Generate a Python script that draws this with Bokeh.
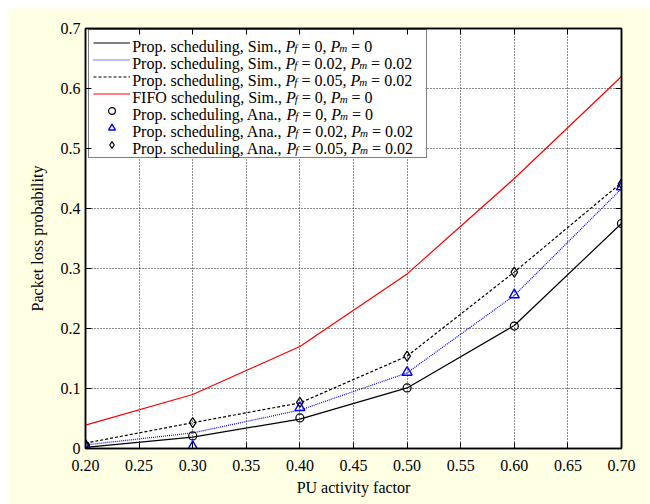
from bokeh.plotting import figure
from bokeh.models import (FixedTicker, LinearAxis, Legend, LegendItem, Label, Range1d, Grid,
                          BoxAnnotation)
from bokeh.core.properties import value
from bokeh.embed import file_html
from bokeh.resources import INLINE

# ---------------- data ----------------
pu_factor = [0.20, 0.30, 0.40, 0.50, 0.60, 0.70]
sim_pf0_pm0 = [0.002, 0.019, 0.049, 0.101, 0.205, 0.375]
sim_pf002_pm002 = [0.006, 0.026, 0.064, 0.126, 0.255, 0.433]
sim_pf005_pm002 = [0.009, 0.043, 0.076, 0.154, 0.294, 0.443]
fifo_pf0_pm0 = [0.039, 0.090, 0.170, 0.291, 0.450, 0.620]
ana_pf0_pm0 = [0.004, 0.021, 0.051, 0.101, 0.204, 0.375]
ana_pf002_pm002 = [0.004, 0.003, 0.068, 0.127, 0.256, 0.436]
ana_pf005_pm002 = [0.007, 0.043, 0.077, 0.154, 0.294, 0.441]

x_ticks = [0.20, 0.25, 0.30, 0.35, 0.40, 0.45, 0.50, 0.55, 0.60, 0.65, 0.70]
x_tick_labels = ["0.20", "0.25", "0.30", "0.35", "0.40", "0.45", "0.50", "0.55", "0.60", "0.65", "0.70"]
y_ticks = [0.0, 0.1, 0.2, 0.3, 0.4, 0.5, 0.6, 0.7]
y_tick_labels = ["0", "0.1", "0.2", "0.3", "0.4", "0.5", "0.6", "0.7"]

legend_prefix = ["Prop. scheduling, Sim., ", "Prop. scheduling, Sim., ", "Prop. scheduling, Sim., ",
                 "FIFO scheduling, Sim., ", "Prop. scheduling, Ana., ", "Prop. scheduling, Ana., ",
                 "Prop. scheduling, Ana., "]
legend_pf = ["0", "0.02", "0.05", "0", "0", "0.02", "0.05"]
legend_pm = ["0", "0.02", "0.02", "0", "0", "0.02", "0.02"]

x_label = "PU activity factor"
y_label = "Packet loss probability"

# ---------------- style ----------------
FONT = "Liberation Serif"
BG = "#FFFFE3"

p = figure(width=642, height=496, output_backend="svg", toolbar_location=None,
           x_range=Range1d(0.2, 0.7), y_range=Range1d(0.0, 0.7),
           min_border_left=77, min_border_right=29, min_border_top=20, min_border_bottom=56,
           background_fill_color="white", border_fill_color=BG, x_axis_type=None, y_axis_type=None)
p.margin = (8, 0, 0, 8)
p.outline_line_color = "black"
p.outline_line_width = 1.5

xt = dict(zip(x_ticks, x_tick_labels))
yt = dict(zip(y_ticks, y_tick_labels))


def make_axis(ticks, overrides, show_labels):
    ax = LinearAxis(ticker=FixedTicker(ticks=ticks, minor_ticks=[]))
    ax.major_label_overrides = overrides if show_labels else {t: "" for t in ticks}
    ax.major_tick_in = 6
    ax.major_tick_out = 0
    ax.minor_tick_line_color = None
    ax.axis_line_color = "black"
    ax.axis_line_width = 1.5
    ax.major_tick_line_color = "black"
    ax.major_label_text_font = FONT
    ax.major_label_text_font_size = "16px" if show_labels else "1px"
    ax.major_label_text_color = "black"
    ax.major_label_standoff = 5
    ax.axis_label_text_font = FONT
    ax.axis_label_text_font_size = "16px"
    ax.axis_label_text_font_style = "normal"
    ax.axis_label_text_color = "black"
    return ax


xb = make_axis(x_ticks, xt, True)
xb.axis_label = x_label
xb.major_label_standoff = 11
xb.axis_label_standoff = 5
p.add_layout(xb, "below")
yl = make_axis(y_ticks, yt, True)
yl.axis_label = y_label
yl.axis_label_standoff = 12
p.add_layout(yl, "left")
p.add_layout(make_axis(x_ticks, xt, False), "above")
p.add_layout(make_axis(y_ticks, yt, False), "right")

gx = Grid(dimension=0, ticker=FixedTicker(ticks=x_ticks), grid_line_color="black",
          grid_line_dash="1 2", grid_line_width=1, grid_line_alpha=0.9)
gy = Grid(dimension=1, ticker=FixedTicker(ticks=y_ticks), grid_line_color="black",
          grid_line_dash="1 2", grid_line_width=1, grid_line_alpha=0.9)
p.add_layout(gx)
p.add_layout(gy)

r1 = p.line(pu_factor, sim_pf0_pm0, line_color="black", line_width=1.2)
r2 = p.line(pu_factor, sim_pf002_pm002, line_color="blue", line_width=1.2, line_dash="1 1")
r3 = p.line(pu_factor, sim_pf005_pm002, line_color="black", line_width=1.2, line_dash="3 2")
r4 = p.line(pu_factor, fifo_pf0_pm0, line_color="red", line_width=1.2)
r5 = p.scatter(pu_factor, ana_pf0_pm0, marker="circle", size=8, fill_color=None,
               line_color="black", line_width=1.2)
r6 = p.scatter(pu_factor, ana_pf002_pm002, marker="triangle", size=10, fill_color=None,
               line_color="blue", line_width=1.4)
r7 = p.scatter(pu_factor, ana_pf005_pm002, marker="diamond", size=10, fill_color=None,
               line_color="black", line_width=1.2)

# legend box geometry (screen px, frame-relative, y up)
FRAME_H = 420
LG_LEFT, LG_BOTTOM, LG_PAD, LG_ROW, LG_GLYPH_W, LG_STANDOFF, LG_LABEL_W = 3, 290, 4, 17, 37, 2, 290
LG_W = 2 * LG_PAD + LG_GLYPH_W + LG_STANDOFF + LG_LABEL_W
LG_H = 2 * LG_PAD + 7 * LG_ROW

p.add_layout(BoxAnnotation(left=LG_LEFT, right=LG_LEFT + LG_W, bottom=LG_BOTTOM, top=LG_BOTTOM + LG_H,
                           left_units="screen", right_units="screen", bottom_units="screen",
                           top_units="screen", fill_color="white", fill_alpha=1.0, line_color=None,
                           level="glyph", editable=False))

legend = Legend(items=[LegendItem(label=value(""), renderers=[r]) for r in [r1, r2, r3, r4, r5, r6, r7]],
                location=(LG_LEFT, LG_BOTTOM), padding=LG_PAD, spacing=0, glyph_height=LG_ROW,
                label_height=LG_ROW, glyph_width=LG_GLYPH_W, label_standoff=LG_STANDOFF,
                label_width=LG_LABEL_W, label_text_font_size="1px",
                border_line_color="black", border_line_width=1, background_fill_color="white",
                background_fill_alpha=0.0, margin=0)
p.add_layout(legend)

# legend texts (mixed normal / italic / subscript)
REG = {' ': 250, 'P': 556, 'r': 333, 'o': 500, 'p': 500, '.': 250, 's': 389, 'c': 444, 'h': 500,
       'e': 444, 'd': 500, 'u': 500, 'l': 278, 'i': 278, 'n': 500, 'g': 500, ',': 250, 'S': 556,
       'm': 778, 'F': 556, 'I': 333, 'O': 722, 'A': 722, 'a': 444, '=': 564}
ITA = {'P': 611, 'f': 278, 'm': 722}


def tw(s, size, table):
    return sum(table.get(c, 500) for c in s) * size / 1000.0


x0 = 46.7
row_top_baseline = 49.3 - 28.0 - 3.5
for k in range(7):
    base = FRAME_H - (row_top_baseline + LG_ROW * k)
    parts = [(legend_prefix[k], "normal", 16, 0.0, REG),
             ("P", "italic", 16, 0.0, ITA),
             ("f", "italic", 11, -1.5, ITA),
             (" = " + legend_pf[k] + ", ", "normal", 16, 0.0, REG),
             ("P", "italic", 16, 0.0, ITA),
             ("m", "italic", 11, -1.5, ITA),
             (" = " + legend_pm[k], "normal", 16, 0.0, REG)]
    x = x0
    for text, style, size, dy, table in parts:
        if size == 11:
            x -= 1.0
        stripped = text.lstrip(" ")
        lead = tw(text[:len(text) - len(stripped)], size, table)
        p.add_layout(Label(x=x + lead, y=base + dy, x_units="screen", y_units="screen",
                           text=stripped.rstrip(" "),
                           text_font=FONT, text_font_style=style, text_font_size=f"{size}px",
                           text_color="black", text_baseline="alphabetic", text_align="left",
                           level="overlay"))
        x += tw(text, size, table)

html = file_html(p, INLINE)
open("out.html", "w").write(html)
